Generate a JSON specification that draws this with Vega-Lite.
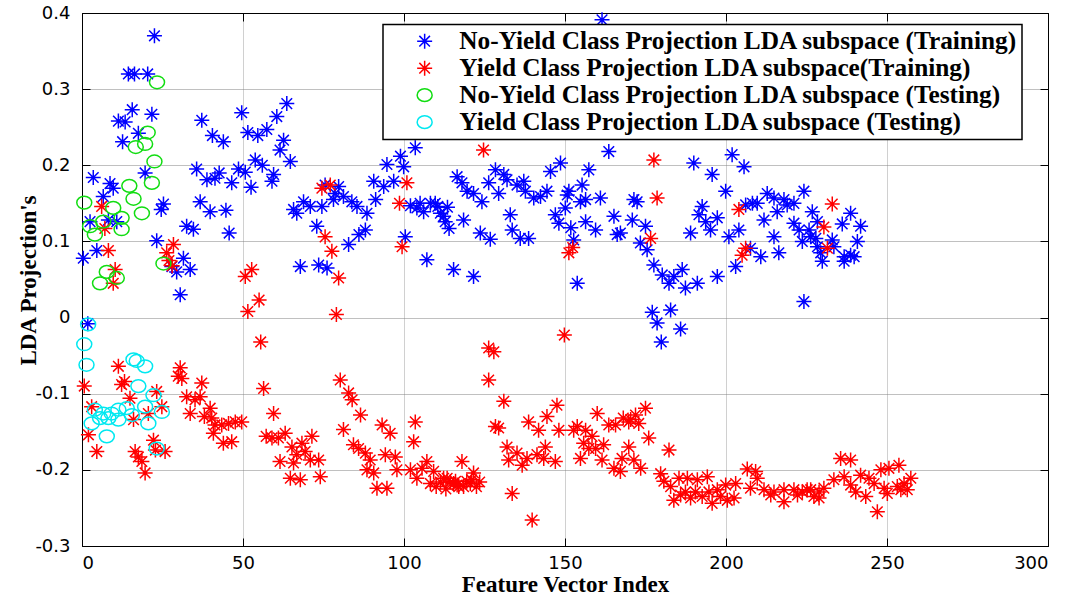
{
  "$schema": "https://vega.github.io/schema/vega-lite/v6.json",
  "width": 966,
  "height": 533,
  "autosize": {"type": "none"},
  "padding": {"left": 82, "top": 13, "right": 19, "bottom": 51},
  "background": "white",
  "data": {"values": [
    {"s":"A","i":0.4,"v":0.078},{"s":"A","i":1.8,"v":-0.008},{"s":"A","i":2.5,"v":0.126},{"s":"A","i":3.5,"v":0.184},{"s":"A","i":4.6,"v":0.088},
    {"s":"A","i":6.6,"v":0.159},{"s":"A","i":8.2,"v":0.128},{"s":"A","i":8.7,"v":0.176},{"s":"A","i":9.7,"v":0.170},{"s":"A","i":10.8,"v":0.126},
    {"s":"A","i":11.3,"v":0.258},{"s":"A","i":12.6,"v":0.231},{"s":"A","i":13.4,"v":0.257},{"s":"A","i":14.4,"v":0.320},{"s":"A","i":15.6,"v":0.273},
    {"s":"A","i":16.3,"v":0.320},{"s":"A","i":17.5,"v":0.242},{"s":"A","i":19.6,"v":0.190},{"s":"A","i":20.4,"v":0.320},{"s":"A","i":21.7,"v":0.267},
    {"s":"A","i":22.5,"v":0.370},{"s":"A","i":23.2,"v":0.101},{"s":"A","i":24.6,"v":0.142},{"s":"A","i":25.3,"v":0.149},{"s":"A","i":27.9,"v":0.067},
    {"s":"A","i":29.4,"v":0.060},{"s":"A","i":30.5,"v":0.030},{"s":"A","i":31.5,"v":0.078},{"s":"A","i":32.5,"v":0.120},{"s":"A","i":33.6,"v":0.063},
    {"s":"A","i":34.6,"v":0.116},{"s":"A","i":35.6,"v":0.195},{"s":"A","i":36.7,"v":0.152},{"s":"A","i":37.2,"v":0.259},{"s":"A","i":38.8,"v":0.181},
    {"s":"A","i":39.8,"v":0.139},{"s":"A","i":40.5,"v":0.239},{"s":"A","i":41.3,"v":0.183},{"s":"A","i":42.6,"v":0.190},{"s":"A","i":43.9,"v":0.231},
    {"s":"A","i":44.7,"v":0.141},{"s":"A","i":45.7,"v":0.111},{"s":"A","i":46.5,"v":0.177},{"s":"A","i":48.6,"v":0.195},{"s":"A","i":49.6,"v":0.269},
    {"s":"A","i":50.7,"v":0.191},{"s":"A","i":51.5,"v":0.243},{"s":"A","i":52.5,"v":0.171},{"s":"A","i":53.8,"v":0.207},{"s":"A","i":54.6,"v":0.239},
    {"s":"A","i":56.0,"v":0.200},{"s":"A","i":57.4,"v":0.247},{"s":"A","i":59.0,"v":0.179},{"s":"A","i":59.5,"v":0.188},{"s":"A","i":60.5,"v":0.264},
    {"s":"A","i":61.5,"v":0.220},{"s":"A","i":62.6,"v":0.233},{"s":"A","i":63.6,"v":0.281},{"s":"A","i":64.7,"v":0.205},{"s":"A","i":65.7,"v":0.142},
    {"s":"A","i":66.7,"v":0.137},{"s":"A","i":67.8,"v":0.067},{"s":"A","i":68.8,"v":0.152},{"s":"A","i":70.9,"v":0.146},{"s":"A","i":72.9,"v":0.120},
    {"s":"A","i":73.5,"v":0.069},{"s":"A","i":74.5,"v":0.146},{"s":"A","i":75.5,"v":0.174},{"s":"A","i":76.1,"v":0.065},{"s":"A","i":78.1,"v":0.155},
    {"s":"A","i":78.6,"v":0.163},{"s":"A","i":79.7,"v":0.172},{"s":"A","i":81.2,"v":0.159},{"s":"A","i":82.8,"v":0.096},{"s":"A","i":83.8,"v":0.152},
    {"s":"A","i":85.4,"v":0.146},{"s":"A","i":86.0,"v":0.109},{"s":"A","i":88.0,"v":0.115},{"s":"A","i":88.5,"v":0.137},{"s":"A","i":90.6,"v":0.179},
    {"s":"A","i":91.2,"v":0.155},{"s":"A","i":93.7,"v":0.172},{"s":"A","i":94.7,"v":0.201},{"s":"A","i":96.8,"v":0.179},{"s":"A","i":98.9,"v":0.212},
    {"s":"A","i":99.9,"v":0.198},{"s":"A","i":100.4,"v":0.106},{"s":"A","i":102.0,"v":0.147},{"s":"A","i":103.5,"v":0.223},{"s":"A","i":104.0,"v":0.144},
    {"s":"A","i":105.0,"v":0.150},{"s":"A","i":106.1,"v":0.139},
    {"s":"A","i":107.1,"v":0.076},{"s":"A","i":108.2,"v":0.150},{"s":"A","i":109.7,"v":0.150},{"s":"A","i":110.5,"v":0.146},{"s":"A","i":111.3,"v":0.137},{"s":"A","i":112.3,"v":0.133},
    {"s":"A","i":112.8,"v":0.126},{"s":"A","i":113.5,"v":0.145},{"s":"A","i":114.0,"v":0.117},{"s":"A","i":115.4,"v":0.063},{"s":"A","i":116.5,"v":0.185},{"s":"A","i":118.0,"v":0.177},
    {"s":"A","i":118.5,"v":0.128},{"s":"A","i":119.6,"v":0.166},{"s":"A","i":121.6,"v":0.163},{"s":"A","i":121.6,"v":0.054},{"s":"A","i":123.7,"v":0.111},
    {"s":"A","i":124.2,"v":0.152},{"s":"A","i":126.3,"v":0.177},{"s":"A","i":126.8,"v":0.103},{"s":"A","i":128.4,"v":0.194},{"s":"A","i":129.4,"v":0.163},
    {"s":"A","i":131.0,"v":0.188},{"s":"A","i":132.0,"v":0.181},{"s":"A","i":133.0,"v":0.135},{"s":"A","i":133.6,"v":0.115},{"s":"A","i":135.1,"v":0.174},
    {"s":"A","i":136.1,"v":0.104},{"s":"A","i":137.2,"v":0.179},{"s":"A","i":137.7,"v":0.166},{"s":"A","i":138.7,"v":0.104},{"s":"A","i":140.3,"v":0.157},
    {"s":"A","i":142.4,"v":0.159},{"s":"A","i":144.4,"v":0.166},{"s":"A","i":145.5,"v":0.192},{"s":"A","i":147.0,"v":0.135},{"s":"A","i":148.1,"v":0.124},
    {"s":"A","i":148.6,"v":0.203},{"s":"A","i":150.1,"v":0.144},{"s":"A","i":150.7,"v":0.161},{"s":"A","i":151.2,"v":0.166},{"s":"A","i":151.8,"v":0.118},
    {"s":"A","i":152.7,"v":0.102},{"s":"A","i":153.8,"v":0.045},{"s":"A","i":154.8,"v":0.152},{"s":"A","i":155.3,"v":0.174},{"s":"A","i":156.4,"v":0.155},
    {"s":"A","i":156.4,"v":0.126},{"s":"A","i":157.4,"v":0.194},{"s":"A","i":159.5,"v":0.115},{"s":"A","i":161.0,"v":0.157},{"s":"A","i":161.5,"v":0.391},
    {"s":"A","i":163.6,"v":0.218},{"s":"A","i":165.2,"v":0.133},{"s":"A","i":166.2,"v":0.109},{"s":"A","i":167.2,"v":0.111},{"s":"A","i":170.9,"v":0.128},
    {"s":"A","i":171.4,"v":0.155},{"s":"A","i":172.4,"v":0.152},{"s":"A","i":173.4,"v":0.098},{"s":"A","i":175.0,"v":0.120},{"s":"A","i":175.5,"v":0.089},
    {"s":"A","i":177.1,"v":0.007},{"s":"A","i":177.6,"v":0.069},{"s":"A","i":178.6,"v":-0.007},{"s":"A","i":179.9,"v":-0.032},{"s":"A","i":180.2,"v":0.056},
    {"s":"A","i":182.3,"v":0.045},{"s":"A","i":182.8,"v":0.010},{"s":"A","i":183.8,"v":0.054},{"s":"A","i":185.9,"v":-0.015},{"s":"A","i":186.4,"v":0.063},
    {"s":"A","i":187.4,"v":0.039},{"s":"A","i":189.0,"v":0.111},{"s":"A","i":190.0,"v":0.203},{"s":"A","i":191.1,"v":0.045},{"s":"A","i":191.6,"v":0.135},
    {"s":"A","i":192.6,"v":0.146},{"s":"A","i":193.7,"v":0.126},{"s":"A","i":195.2,"v":0.115},{"s":"A","i":195.7,"v":0.188},{"s":"A","i":197.3,"v":0.131},
    {"s":"A","i":197.3,"v":0.054},{"s":"A","i":199.9,"v":0.166},{"s":"A","i":200.9,"v":0.106},{"s":"A","i":201.9,"v":0.214},{"s":"A","i":203.0,"v":0.067},
    {"s":"A","i":204.0,"v":0.115},{"s":"A","i":205.6,"v":0.198},{"s":"A","i":206.1,"v":0.148},{"s":"A","i":207.6,"v":0.091},{"s":"A","i":208.2,"v":0.150},
    {"s":"A","i":209.7,"v":0.150},{"s":"A","i":210.8,"v":0.080},{"s":"A","i":211.8,"v":0.128},{"s":"A","i":212.8,"v":0.163},{"s":"A","i":214.9,"v":0.157},
    {"s":"A","i":214.9,"v":0.106},{"s":"A","i":215.9,"v":0.139},{"s":"A","i":216.4,"v":0.085},{"s":"A","i":218.0,"v":0.155},{"s":"A","i":219.0,"v":0.148},
    {"s":"A","i":221.1,"v":0.150},{"s":"A","i":221.1,"v":0.124},{"s":"A","i":222.7,"v":0.115},{"s":"A","i":223.7,"v":0.100},{"s":"A","i":224.2,"v":0.166},
    {"s":"A","i":224.2,"v":0.021},{"s":"A","i":225.8,"v":0.115},{"s":"A","i":226.3,"v":0.106},{"s":"A","i":226.8,"v":0.139},{"s":"A","i":227.9,"v":0.104},
    {"s":"A","i":228.4,"v":0.126},{"s":"A","i":228.4,"v":0.093},{"s":"A","i":229.4,"v":0.085},{"s":"A","i":229.9,"v":0.074},{"s":"A","i":233.0,"v":0.102},
    {"s":"A","i":233.5,"v":0.093},{"s":"A","i":236.1,"v":0.123},{"s":"A","i":236.7,"v":0.080},{"s":"A","i":236.7,"v":0.074},{"s":"A","i":238.7,"v":0.137},
    {"s":"A","i":238.7,"v":0.082},{"s":"A","i":239.8,"v":0.080},{"s":"A","i":240.8,"v":0.100},{"s":"A","i":241.8,"v":0.120},

    {"s":"B","i":0.7,"v":-0.090},{"s":"B","i":2.0,"v":-0.154},{"s":"B","i":3.0,"v":-0.117},{"s":"B","i":4.6,"v":-0.176},{"s":"B","i":6.1,"v":0.146},
    {"s":"B","i":7.1,"v":0.117},{"s":"B","i":8.2,"v":0.088},{"s":"B","i":9.7,"v":0.045},{"s":"B","i":10.3,"v":0.063},{"s":"B","i":11.3,"v":-0.064},
    {"s":"B","i":12.3,"v":-0.088},{"s":"B","i":13.2,"v":-0.084},{"s":"B","i":14.9,"v":-0.106},{"s":"B","i":16.0,"v":-0.134},{"s":"B","i":16.5,"v":-0.176},
    {"s":"B","i":17.5,"v":-0.183},{"s":"B","i":18.6,"v":-0.189},{"s":"B","i":19.6,"v":-0.204},{"s":"B","i":20.6,"v":-0.126},{"s":"B","i":22.2,"v":-0.161},
    {"s":"B","i":22.8,"v":-0.174},{"s":"B","i":23.2,"v":-0.097},{"s":"B","i":24.8,"v":-0.117},{"s":"B","i":25.8,"v":-0.176},{"s":"B","i":26.3,"v":0.085},
    {"s":"B","i":27.0,"v":0.075},{"s":"B","i":28.4,"v":0.096},{"s":"B","i":28.0,"v":0.068},{"s":"B","i":29.9,"v":-0.077},{"s":"B","i":30.5,"v":-0.066},
    {"s":"B","i":31.0,"v":-0.080},{"s":"B","i":32.5,"v":-0.104},{"s":"B","i":33.6,"v":-0.126},{"s":"B","i":35.1,"v":-0.108},{"s":"B","i":36.7,"v":-0.104},
    {"s":"B","i":37.2,"v":-0.086},{"s":"B","i":38.0,"v":-0.130},{"s":"B","i":39.8,"v":-0.119},{"s":"B","i":40.3,"v":-0.132},{"s":"B","i":40.8,"v":-0.152},
    {"s":"B","i":41.3,"v":-0.141},{"s":"B","i":43.4,"v":-0.141},{"s":"B","i":43.9,"v":-0.165},{"s":"B","i":45.5,"v":-0.139},{"s":"B","i":46.5,"v":-0.163},
    {"s":"B","i":47.6,"v":-0.137},{"s":"B","i":49.6,"v":-0.137},{"s":"B","i":50.7,"v":0.054},{"s":"B","i":51.5,"v":0.008},{"s":"B","i":52.7,"v":0.063},
    {"s":"B","i":55.0,"v":0.023},{"s":"B","i":55.5,"v":-0.032},{"s":"B","i":56.4,"v":-0.093},{"s":"B","i":57.2,"v":-0.156},{"s":"B","i":59.0,"v":-0.158},
    {"s":"B","i":59.5,"v":-0.126},{"s":"B","i":61.0,"v":-0.158},{"s":"B","i":61.5,"v":-0.189},{"s":"B","i":63.1,"v":-0.152},{"s":"B","i":64.7,"v":-0.211},
    {"s":"B","i":65.2,"v":-0.170},{"s":"B","i":65.7,"v":-0.191},{"s":"B","i":66.7,"v":-0.180},{"s":"B","i":67.8,"v":-0.213},{"s":"B","i":68.3,"v":-0.165},
    {"s":"B","i":69.3,"v":-0.176},{"s":"B","i":70.9,"v":-0.187},{"s":"B","i":71.4,"v":-0.156},{"s":"B","i":73.5,"v":-0.187},{"s":"B","i":74.0,"v":-0.209},
    {"s":"B","i":74.5,"v":0.170},{"s":"B","i":75.5,"v":0.106},{"s":"B","i":77.1,"v":0.174},{"s":"B","i":77.6,"v":0.087},{"s":"B","i":79.7,"v":0.052},
    {"s":"B","i":79.0,"v":0.004},{"s":"B","i":80.2,"v":-0.082},{"s":"B","i":81.2,"v":-0.147},{"s":"B","i":82.8,"v":-0.099},{"s":"B","i":83.9,"v":-0.108},
    {"s":"B","i":84.3,"v":-0.167},{"s":"B","i":85.9,"v":-0.172},{"s":"B","i":86.5,"v":-0.128},{"s":"B","i":88.0,"v":-0.178},{"s":"B","i":88.5,"v":-0.200},
    {"s":"B","i":89.5,"v":-0.187},{"s":"B","i":90.6,"v":-0.204},{"s":"B","i":91.6,"v":-0.224},{"s":"B","i":93.2,"v":-0.141},{"s":"B","i":94.2,"v":-0.180},
    {"s":"B","i":94.7,"v":-0.224},{"s":"B","i":95.7,"v":-0.152},{"s":"B","i":97.3,"v":-0.183},{"s":"B","i":97.8,"v":-0.200},{"s":"B","i":98.6,"v":0.150},
    {"s":"B","i":99.4,"v":0.093},{"s":"B","i":100.9,"v":0.177},{"s":"B","i":102.0,"v":-0.200},{"s":"B","i":103.0,"v":-0.163},{"s":"B","i":103.5,"v":-0.137},
    {"s":"B","i":104.0,"v":-0.211},{"s":"B","i":105.6,"v":-0.198},{"s":"B","i":107.1,"v":-0.189},{"s":"B","i":108.2,"v":-0.218},{"s":"B","i":109.2,"v":-0.202},
    {"s":"B","i":110.0,"v":-0.222},{"s":"B","i":111.3,"v":-0.216},{"s":"B","i":112.3,"v":-0.211},{"s":"B","i":113.0,"v":-0.225},{"s":"B","i":113.4,"v":-0.211},{"s":"B","i":114.4,"v":-0.216},{"s":"B","i":115.4,"v":-0.218},
    {"s":"B","i":116.0,"v":-0.215},{"s":"B","i":116.5,"v":-0.220},{"s":"B","i":117.0,"v":-0.222},{"s":"B","i":118.0,"v":-0.189},{"s":"B","i":118.5,"v":-0.222},{"s":"B","i":119.5,"v":-0.215},
    {"s":"B","i":120.6,"v":-0.218},{"s":"B","i":121.0,"v":-0.213},{"s":"B","i":121.6,"v":-0.204},{"s":"B","i":122.5,"v":-0.222},{"s":"B","i":123.5,"v":-0.216},{"s":"B","i":124.7,"v":0.220},{"s":"B","i":126.3,"v":-0.040},
    {"s":"B","i":126.3,"v":-0.082},{"s":"B","i":127.9,"v":-0.045},{"s":"B","i":128.4,"v":-0.143},{"s":"B","i":129.4,"v":-0.145},{"s":"B","i":131.0,"v":-0.110},
    {"s":"B","i":132.0,"v":-0.170},{"s":"B","i":132.5,"v":-0.187},{"s":"B","i":133.6,"v":-0.231},{"s":"B","i":135.1,"v":-0.178},{"s":"B","i":136.7,"v":-0.194},
    {"s":"B","i":138.2,"v":-0.185},{"s":"B","i":138.7,"v":-0.137},{"s":"B","i":139.8,"v":-0.266},{"s":"B","i":141.3,"v":-0.180},{"s":"B","i":141.8,"v":-0.148},
    {"s":"B","i":143.4,"v":-0.185},{"s":"B","i":143.9,"v":-0.170},{"s":"B","i":144.4,"v":-0.130},{"s":"B","i":147.0,"v":-0.189},{"s":"B","i":147.5,"v":-0.115},
    {"s":"B","i":148.1,"v":-0.148},{"s":"B","i":149.8,"v":-0.023},{"s":"B","i":151.2,"v":0.085},{"s":"B","i":152.4,"v":0.092},{"s":"B","i":152.7,"v":-0.148},
    {"s":"B","i":153.8,"v":-0.143},{"s":"B","i":154.8,"v":-0.185},{"s":"B","i":155.8,"v":-0.165},{"s":"B","i":156.4,"v":-0.148},{"s":"B","i":157.4,"v":-0.172},
    {"s":"B","i":158.4,"v":-0.156},{"s":"B","i":159.5,"v":-0.172},{"s":"B","i":160.0,"v":-0.126},{"s":"B","i":161.5,"v":-0.187},{"s":"B","i":162.0,"v":-0.167},
    {"s":"B","i":163.6,"v":-0.141},{"s":"B","i":165.2,"v":-0.198},{"s":"B","i":165.7,"v":-0.141},{"s":"B","i":167.2,"v":-0.202},{"s":"B","i":167.7,"v":-0.185},
    {"s":"B","i":168.1,"v":-0.132},{"s":"B","i":169.8,"v":-0.137},{"s":"B","i":169.8,"v":-0.170},{"s":"B","i":170.4,"v":-0.134},{"s":"B","i":171.4,"v":-0.187},
    {"s":"B","i":171.9,"v":-0.128},{"s":"B","i":172.9,"v":-0.139},{"s":"B","i":173.5,"v":-0.198},{"s":"B","i":175.0,"v":-0.119},{"s":"B","i":176.0,"v":-0.158},
    {"s":"B","i":176.6,"v":0.104},{"s":"B","i":177.6,"v":0.207},{"s":"B","i":178.6,"v":0.157},{"s":"B","i":179.7,"v":-0.205},{"s":"B","i":180.7,"v":-0.215},
    {"s":"B","i":182.3,"v":-0.174},{"s":"B","i":182.8,"v":-0.222},{"s":"B","i":183.8,"v":-0.240},{"s":"B","i":185.4,"v":-0.211},{"s":"B","i":185.9,"v":-0.233},
    {"s":"B","i":187.4,"v":-0.229},{"s":"B","i":188.0,"v":-0.211},{"s":"B","i":189.0,"v":-0.237},{"s":"B","i":190.5,"v":-0.229},{"s":"B","i":191.1,"v":-0.213},
    {"s":"B","i":192.6,"v":-0.235},{"s":"B","i":194.2,"v":-0.209},{"s":"B","i":194.7,"v":-0.229},{"s":"B","i":195.7,"v":-0.244},{"s":"B","i":197.3,"v":-0.226},
    {"s":"B","i":198.3,"v":-0.235},{"s":"B","i":199.9,"v":-0.220},{"s":"B","i":200.4,"v":-0.240},{"s":"B","i":202.5,"v":-0.237},{"s":"B","i":203.0,"v":-0.218},
    {"s":"B","i":204.0,"v":0.142},{"s":"B","i":205.0,"v":0.082},{"s":"B","i":206.1,"v":0.091},{"s":"B","i":206.6,"v":-0.199},{"s":"B","i":207.6,"v":-0.224},
    {"s":"B","i":209.2,"v":-0.202},{"s":"B","i":209.7,"v":-0.211},{"s":"B","i":211.8,"v":-0.226},{"s":"B","i":213.9,"v":-0.233},{"s":"B","i":214.9,"v":-0.229},
    {"s":"B","i":218.0,"v":-0.226},{"s":"B","i":218.0,"v":-0.242},{"s":"B","i":221.1,"v":-0.226},{"s":"B","i":222.2,"v":-0.233},{"s":"B","i":223.7,"v":-0.229},
    {"s":"B","i":225.2,"v":-0.226},{"s":"B","i":226.3,"v":-0.226},{"s":"B","i":227.3,"v":-0.235},{"s":"B","i":228.9,"v":-0.229},{"s":"B","i":228.9,"v":-0.237},
    {"s":"B","i":230.4,"v":0.119},{"s":"B","i":230.4,"v":-0.224},{"s":"B","i":231.5,"v":0.091},{"s":"B","i":233.0,"v":0.149},{"s":"B","i":233.5,"v":-0.213},
    {"s":"B","i":235.6,"v":-0.185},{"s":"B","i":236.7,"v":-0.209},{"s":"B","i":238.7,"v":-0.187},{"s":"B","i":238.7,"v":-0.220},{"s":"B","i":240.3,"v":-0.229},
    {"s":"B","i":241.8,"v":-0.207},{"s":"B","i":243.4,"v":-0.235},{"s":"B","i":244.4,"v":-0.211},{"s":"B","i":246.0,"v":-0.218},{"s":"B","i":247.0,"v":-0.255},
    {"s":"B","i":248.1,"v":-0.200},{"s":"B","i":249.1,"v":-0.224},{"s":"B","i":250.1,"v":-0.231},{"s":"B","i":250.6,"v":-0.198},{"s":"B","i":253.2,"v":-0.222},
    {"s":"B","i":253.7,"v":-0.194},{"s":"B","i":254.3,"v":-0.226},{"s":"B","i":255.3,"v":-0.218},{"s":"B","i":256.3,"v":-0.226},{"s":"B","i":257.4,"v":-0.211},

    {"s":"C","i":0.7,"v":0.151},{"s":"C","i":2.5,"v":0.120},{"s":"C","i":4.0,"v":0.109},{"s":"C","i":5.6,"v":0.045},{"s":"C","i":6.6,"v":0.126},
    {"s":"C","i":7.7,"v":0.060},{"s":"C","i":9.7,"v":0.144},{"s":"C","i":10.8,"v":0.052},{"s":"C","i":12.3,"v":0.131},{"s":"C","i":12.3,"v":0.116},
    {"s":"C","i":14.7,"v":0.173},{"s":"C","i":16.0,"v":0.156},{"s":"C","i":16.7,"v":0.224},{"s":"C","i":18.6,"v":0.137},{"s":"C","i":19.6,"v":0.228},
    {"s":"C","i":20.4,"v":0.243},{"s":"C","i":21.7,"v":0.177},{"s":"C","i":22.5,"v":0.205},{"s":"C","i":23.3,"v":0.309},{"s":"C","i":25.3,"v":0.071},

    {"s":"D","i":1.9,"v":-0.009},{"s":"D","i":0.7,"v":-0.035},{"s":"D","i":1.4,"v":-0.062},{"s":"D","i":16.0,"v":-0.055},{"s":"D","i":17.0,"v":-0.057},
    {"s":"D","i":19.6,"v":-0.064},{"s":"D","i":17.5,"v":-0.090},{"s":"D","i":22.2,"v":-0.102},{"s":"D","i":24.8,"v":-0.124},{"s":"D","i":4.0,"v":-0.121},
    {"s":"D","i":6.6,"v":-0.126},{"s":"D","i":9.2,"v":-0.126},{"s":"D","i":11.3,"v":-0.121},{"s":"D","i":13.9,"v":-0.119},{"s":"D","i":5.6,"v":-0.132},
    {"s":"D","i":8.2,"v":-0.132},{"s":"D","i":11.3,"v":-0.134},{"s":"D","i":3.0,"v":-0.139},{"s":"D","i":20.6,"v":-0.139},{"s":"D","i":7.7,"v":-0.156},
    {"s":"D","i":23.2,"v":-0.172},{"s":"D","i":19.6,"v":-0.117},{"s":"D","i":15.5,"v":-0.128}
  ]},
  "layer": [
    {
      "mark": {"type": "point", "filled": false, "strokeWidth": 1.5, "opacity": 1},
      "encoding": {
        "x": {
          "field": "i", "type": "quantitative",
          "scale": {"domain": [0, 300], "nice": false, "zero": false},
          "axis": {
            "orient": "bottom", "title": "Feature Vector Index",
            "values": [0, 50, 100, 150, 200, 250, 300],
            "grid": true, "gridColor": "#a0a0a0", "gridDash": [1, 1], "gridWidth": 1,
            "tickSize": -8, "labelPadding": 16,
            "titleY": 45, "titleBaseline": "alphabetic"
          }
        },
        "y": {
          "field": "v", "type": "quantitative",
          "scale": {"domain": [-0.3, 0.4], "nice": false, "zero": false},
          "axis": {
            "orient": "left", "title": "LDA Projection's",
            "values": [-0.3, -0.2, -0.1, 0, 0.1, 0.2, 0.3, 0.4],
            "labelExpr": "toString(round(datum.value * 10) / 10)",
            "grid": true, "gridColor": "#808080", "gridDash": [1, 1], "gridWidth": 1,
            "tickSize": -8, "labelPadding": 20,
            "titleX": -47, "titleY": 267, "titleAngle": -90,
            "titleAlign": "center", "titleBaseline": "alphabetic"
          }
        },
        "color": {
          "field": "s", "type": "nominal",
          "scale": {"domain": ["A", "B", "C", "D"], "range": ["#0000ff", "#ff0000", "#11dd11", "#00e8f0"]},
          "legend": {
            "title": null,
            "orient": "none", "legendX": 301, "legendY": 11.5,
            "labelExpr": "datum.label == 'A' ? 'No-Yield Class Projection LDA subspace (Training)\u00a0\u00a0' : datum.label == 'B' ? 'Yield Class Projection LDA subspace(Training)' : datum.label == 'C' ? 'No-Yield Class Projection LDA subspace (Testing)' : 'Yield Class Projection LDA subspace (Testing)'"
          }
        },
        "shape": {
          "field": "s", "type": "nominal",
          "scale": {"domain": ["A", "B", "C", "D"], "range": [
            "M-1,0L1,0M0,-1L0,1M-0.7071,-0.7071L0.7071,0.7071M-0.7071,0.7071L0.7071,-0.7071",
            "M-1,0L1,0M0,-1L0,1M-0.7071,-0.7071L0.7071,0.7071M-0.7071,0.7071L0.7071,-0.7071",
            "M-1,0C-1,-0.4694,-0.5523,-0.85,0,-0.85C0.5523,-0.85,1,-0.4694,1,0C1,0.4694,0.5523,0.85,0,0.85C-0.5523,0.85,-1,0.4694,-1,0Z",
            "M-1,0C-1,-0.4694,-0.5523,-0.85,0,-0.85C0.5523,-0.85,1,-0.4694,1,0C1,0.4694,0.5523,0.85,0,0.85C-0.5523,0.85,-1,0.4694,-1,0Z"
          ]},
          "legend": {
            "title": null,
            "orient": "none", "legendX": 301, "legendY": 11.5,
            "labelExpr": "datum.label == 'A' ? 'No-Yield Class Projection LDA subspace (Training)\u00a0\u00a0' : datum.label == 'B' ? 'Yield Class Projection LDA subspace(Training)' : datum.label == 'C' ? 'No-Yield Class Projection LDA subspace (Testing)' : 'Yield Class Projection LDA subspace (Testing)'"
          }
        },
        "size": {
          "field": "s", "type": "nominal",
          "scale": {"domain": ["A", "B", "C", "D"], "range": [225, 225, 289, 289]},
          "legend": {
            "title": null,
            "orient": "none", "legendX": 301, "legendY": 11.5,
            "labelExpr": "datum.label == 'A' ? 'No-Yield Class Projection LDA subspace (Training)\u00a0\u00a0' : datum.label == 'B' ? 'Yield Class Projection LDA subspace(Training)' : datum.label == 'C' ? 'No-Yield Class Projection LDA subspace (Testing)' : 'Yield Class Projection LDA subspace (Testing)'"
          }
        }
      }
    },
    {
      "mark": {"type": "point", "opacity": 0},
      "encoding": {
        "x": {
          "field": "i", "type": "quantitative",
          "scale": {"domain": [0, 300], "nice": false, "zero": false},
          "axis": {"orient": "top", "title": null, "labels": false, "grid": false,
                   "values": [0, 50, 100, 150, 200, 250, 300], "tickSize": -8}
        },
        "y": {
          "field": "v", "type": "quantitative",
          "scale": {"domain": [-0.3, 0.4], "nice": false, "zero": false},
          "axis": {"orient": "right", "title": null, "labels": false, "grid": false,
                   "values": [-0.3, -0.2, -0.1, 0, 0.1, 0.2, 0.3, 0.4], "tickSize": -8}
        }
      }
    }
  ],
  "resolve": {"axis": {"x": "independent", "y": "independent"}},
  "config": {
    "view": {"stroke": "#000000", "strokeWidth": 1},
    "axis": {
      "domainColor": "#000000", "domainWidth": 1,
      "tickColor": "#000000", "tickWidth": 1,
      "labelFont": "DejaVu Sans", "labelFontSize": 18, "labelColor": "#000000",
      "titleFont": "Liberation Serif", "titleFontSize": 23, "titleFontWeight": "bold", "titleColor": "#000000"
    },
    "legend": {
      "strokeColor": "#000000", "strokeWidth": 1.5, "fillColor": "#ffffff",
      "padding": 4, "symbolOffset": 25, "labelOffset": 22, "rowPadding": 1,
      "symbolStrokeWidth": 1.5,
      "labelFont": "Liberation Serif", "labelFontSize": 25.3, "labelFontWeight": "bold", "labelColor": "#000000",
      "labelLimit": 0
    }
  }
}
